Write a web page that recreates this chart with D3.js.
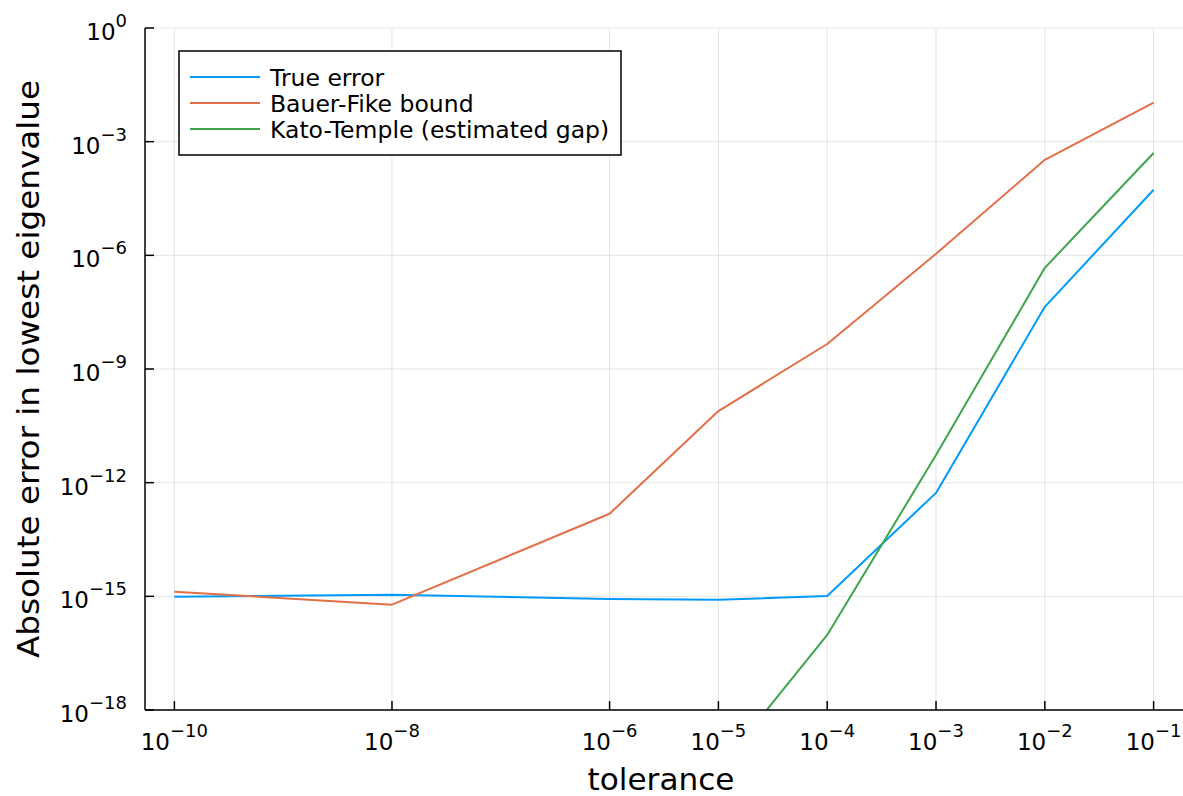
<!DOCTYPE html>
<html>
<head>
<meta charset="utf-8">
<script src="https://d3js.org/d3.v7.min.js"></script>
<style>
  body { margin: 0; background: #fff; }
  text { font-family: "DejaVu Sans", sans-serif; fill: #000; }
</style>
</head>
<body>
<svg id="chart" width="1183" height="796"></svg>
<script>
// tolerance values on the x axis
const tolerances = [1e-10, 1e-8, 1e-6, 1e-5, 1e-4, 1e-3, 1e-2, 1e-1];
// log10 of the error
const trueError   = [-15.01, -14.96, -15.07, -15.09, -14.99, -12.27, -7.36, -4.27];
const bauerFike   = [-14.88, -15.22, -12.82, -10.11, -8.34, -5.96, -3.48, -1.97];
const katoTemple  = [null, null, null, -19.58, -16.02, -11.27, -6.33, -3.30];

const seriesNames = ["True error", "Bauer-Fike bound", "Kato-Temple (estimated gap)"];
const seriesColors = ["#009AFA", "#E36F47", "#3EA44E"];
const xTickExps = [-10, -8, -6, -5, -4, -3, -2, -1];
const yTickExps = [0, -3, -6, -9, -12, -15, -18];

const svg = d3.select("#chart");
const pLeft = 145, pRight = 1183, pTop = 28, pBottom = 710;

const x = d3.scaleLog().domain([Math.pow(10, -10.27), Math.pow(10, -0.73)]).range([pLeft, pRight]);
const y = d3.scaleLog().domain([1e-18, 1e0]).range([pBottom, pTop]);

// grid
const grid = svg.append("g");
grid.selectAll("line.gx").data(xTickExps).join("line")
    .attr("x1", d => x(Math.pow(10, d))).attr("x2", d => x(Math.pow(10, d)))
    .attr("y1", pTop).attr("y2", pBottom)
    .attr("stroke", "#000").attr("stroke-opacity", 0.1).attr("stroke-width", 1);
grid.selectAll("line.gy").data(yTickExps).join("line")
    .attr("y1", d => y(Math.pow(10, d))).attr("y2", d => y(Math.pow(10, d)))
    .attr("x1", pLeft).attr("x2", pRight)
    .attr("stroke", "#000").attr("stroke-opacity", 0.1).attr("stroke-width", 1);

// clip
svg.append("clipPath").attr("id", "clip").append("rect")
    .attr("x", pLeft).attr("y", pTop).attr("width", pRight - pLeft).attr("height", pBottom - pTop);

const allSeries = [trueError, bauerFike, katoTemple];
const line = d3.line()
    .defined(d => d.v !== null)
    .x(d => x(d.t))
    .y(d => y(Math.pow(10, d.v)));

svg.append("g").attr("clip-path", "url(#clip)")
    .selectAll("path").data(allSeries).join("path")
    .attr("d", s => line(s.map((v, i) => ({ t: tolerances[i], v: v }))))
    .attr("fill", "none")
    .attr("stroke", (s, i) => seriesColors[i])
    .attr("stroke-width", 2)
    .attr("stroke-linejoin", "round");

// axes lines and ticks (ticks point inward)
const ax = svg.append("g");
ax.append("line").attr("x1", pLeft).attr("x2", pRight).attr("y1", pBottom).attr("y2", pBottom)
    .attr("stroke", "#000").attr("stroke-width", 1.5);
ax.append("line").attr("x1", pLeft).attr("x2", pLeft).attr("y1", pTop).attr("y2", pBottom)
    .attr("stroke", "#000").attr("stroke-width", 1.5);
ax.selectAll("line.tx").data(xTickExps).join("line")
    .attr("x1", d => x(Math.pow(10, d))).attr("x2", d => x(Math.pow(10, d)))
    .attr("y1", pBottom).attr("y2", pBottom - 9)
    .attr("stroke", "#000").attr("stroke-width", 1.5);
ax.selectAll("line.ty").data(yTickExps).join("line")
    .attr("y1", d => y(Math.pow(10, d))).attr("y2", d => y(Math.pow(10, d)))
    .attr("x1", pLeft).attr("x2", pLeft + 9)
    .attr("stroke", "#000").attr("stroke-width", 1.5);

function powLabel(sel, e) {
    const t = sel.append("text");
    t.append("tspan").attr("font-size", 23).text("10");
    t.append("tspan").attr("font-size", 18).attr("dy", -13).text(e === 0 ? "0" : "\u2212" + Math.abs(e));
    return t;
}

xTickExps.forEach(e => {
    const g = ax.append("g").attr("transform", `translate(${x(Math.pow(10, e))},${750})`);
    powLabel(g, e).attr("text-anchor", "middle");
});
yTickExps.forEach(e => {
    const g = ax.append("g").attr("transform", `translate(${127},${y(Math.pow(10, e)) + 12})`);
    powLabel(g, e).attr("text-anchor", "end");
});

// axis titles
svg.append("text").attr("x", 661).attr("y", 790).attr("text-anchor", "middle")
    .attr("font-size", 30).attr("textLength", 147).attr("lengthAdjust", "spacingAndGlyphs")
    .text("tolerance");
svg.append("text").attr("transform", "translate(39,369) rotate(-90)").attr("text-anchor", "middle")
    .attr("font-size", 30).attr("textLength", 578).attr("lengthAdjust", "spacingAndGlyphs")
    .text("Absolute error in lowest eigenvalue");

// legend
const leg = svg.append("g");
leg.append("rect").attr("x", 179).attr("y", 51).attr("width", 442).attr("height", 104)
    .attr("fill", "#fff").attr("stroke", "#000").attr("stroke-width", 1.5);
seriesNames.forEach((name, i) => {
    const yy = 77 + i * 26;
    leg.append("line").attr("x1", 190).attr("x2", 260).attr("y1", yy).attr("y2", yy)
        .attr("stroke", seriesColors[i]).attr("stroke-width", 2);
    leg.append("text").attr("x", 270).attr("y", yy + 9).attr("font-size", 23.5).text(name);
});
</script>
</body>
</html>
